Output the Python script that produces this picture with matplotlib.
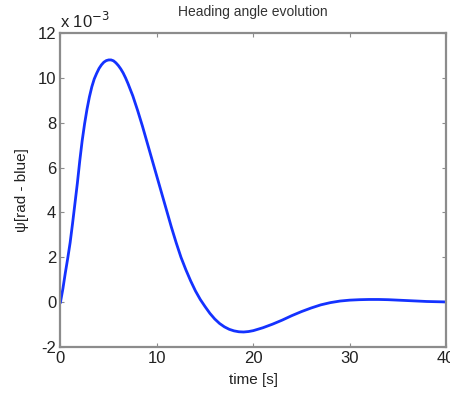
import numpy as np
import matplotlib
matplotlib.use('Agg')
import matplotlib.pyplot as plt
from matplotlib.ticker import FuncFormatter

plt.rcParams['font.family'] = ['Liberation Sans', 'DejaVu Sans']

# Datos (psi en unidades de 1e-3 rad)
t = [0, 0.25, 0.5, 0.75, 1.0, 1.25, 1.5, 1.75, 2.0, 2.25, 2.5, 2.75, 3.0,
     3.25, 3.5, 3.75, 4.0, 4.25, 4.5, 4.75, 5.0, 5.25, 5.5, 5.75, 6.0, 6.25,
     6.5, 6.75, 7.0, 7.5, 8.0, 8.5, 9.0, 9.5, 10, 10.5, 11, 11.5, 12, 12.5,
     13, 13.5, 14, 14.5, 15, 15.5, 16, 16.5, 17, 17.5, 18, 18.5, 19, 19.5,
     20, 21, 22, 23, 24, 25, 26, 27, 28, 29, 30, 31, 32, 33, 34, 35, 36, 38, 40]
psi = [0, 0.6, 1.3, 1.95, 2.65, 3.5, 4.4, 5.3, 6.3, 7.2, 7.95, 8.6, 9.15,
       9.6, 9.95, 10.2, 10.42, 10.58, 10.7, 10.77, 10.8, 10.8, 10.76, 10.67,
       10.55, 10.4, 10.22, 10.0, 9.75, 9.2, 8.55, 7.85, 7.1, 6.35, 5.6, 4.85,
       4.1, 3.35, 2.65, 2.0, 1.45, 0.95, 0.5, 0.12, -0.2, -0.5, -0.75, -0.95,
       -1.1, -1.21, -1.28, -1.32, -1.33, -1.31, -1.27, -1.14, -0.98, -0.8,
       -0.6, -0.42, -0.26, -0.12, -0.02, 0.05, 0.09, 0.11, 0.12, 0.12, 0.11,
       0.09, 0.07, 0.03, 0.01]
xticks = [0, 10, 20, 30, 40]
yticks = [-2, 0, 2, 4, 6, 8, 10, 12]

gris = '#8c8c8c'

fig = plt.figure(figsize=(4.5, 3.93), dpi=100)
ax = fig.add_axes([0.1344, 0.117, 0.857, 0.799])

ax.plot(t, np.array(psi) * 1e-3, color='#1432ff', linewidth=2)

ax.set_xlim(0, 40)
ax.set_ylim(-2e-3, 12e-3)
ax.set_xticks(xticks)
ax.set_yticks([v * 1e-3 for v in yticks])
ax.yaxis.set_major_formatter(FuncFormatter(lambda v, p: '%g' % round(v * 1e3, 6)))

for s in ax.spines.values():
    s.set_color(gris)
    s.set_linewidth(1.6)
ax.tick_params(direction='in', top=True, right=True, length=3, color=gris,
               labelsize=12, labelcolor='#222222', pad=3)

ax.set_title('Heading angle evolution', fontsize=10, color='#333333', pad=12)
ax.set_xlabel('time [s]', fontsize=11, color='#222222', labelpad=5)
ax.set_ylabel('ψ[rad - blue]', fontsize=11, color='#222222', labelpad=6)
ax.text(0.0, 1.005, 'x 10$^{-3}$', transform=ax.transAxes, fontsize=12,
        color='#222222', ha='left', va='bottom')

fig.savefig('out.png', dpi=100)
